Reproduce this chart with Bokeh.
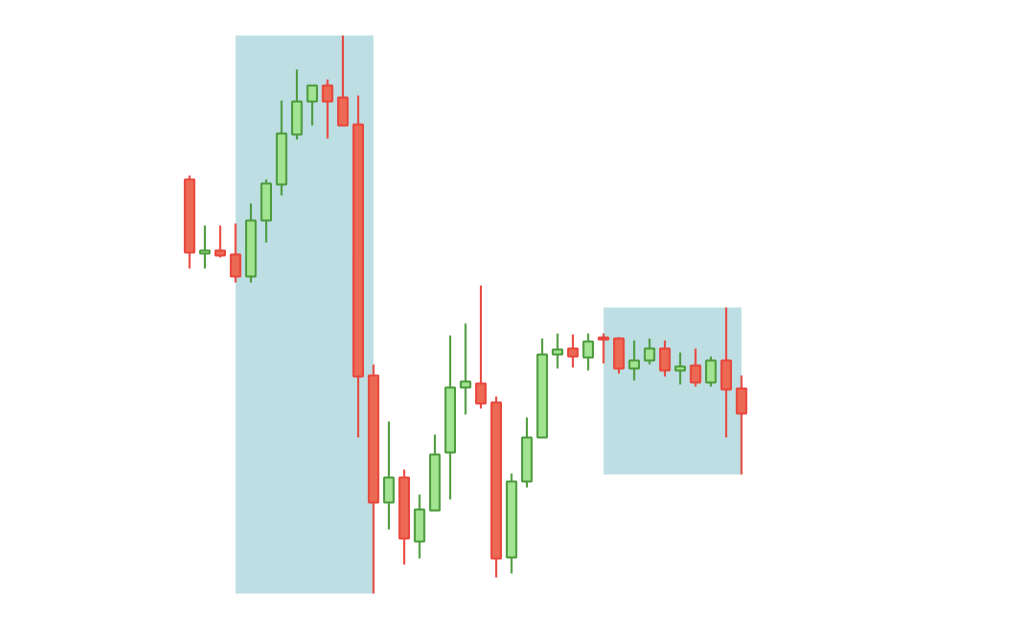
from bokeh.plotting import figure
from bokeh.models import Range1d, ColumnDataSource
from bokeh.embed import file_html
from bokeh.resources import INLINE

# OHLC values (arbitrary price units)
opens  = [521, 447, 450, 446, 424, 480, 516, 566, 599, 615, 603, 576, 325, 198, 223, 159, 190, 248, 313, 317, 298, 143, 219, 263, 346, 352, 343, 363, 362, 332, 340, 352, 330, 335, 318, 340, 312]
highs  = [525, 475, 475, 477, 497, 521, 600, 631, 615, 621, 665, 605, 336, 279, 231, 206, 266, 365, 377, 415, 304, 227, 283, 362, 367, 366, 367, 367, 363, 360, 362, 360, 348, 352, 344, 393, 325]
lows   = [432, 432, 443, 418, 418, 458, 505, 561, 575, 562, 575, 263, 107, 171, 136, 142, 190, 201, 286, 292, 123, 127, 213, 263, 332, 333, 330, 337, 327, 320, 336, 324, 316, 314, 314, 263, 226]
closes = [448, 450, 445, 424, 480, 517, 567, 599, 615, 599, 575, 324, 198, 223, 162, 191, 246, 313, 319, 297, 142, 219, 263, 346, 351, 344, 359, 361, 332, 340, 352, 330, 334, 318, 340, 311, 287]

# highlighted ranges (start index, end index)
zones = [(3, 12), (27, 36)]

idx = list(range(len(opens)))
up = [c >= o for o, c in zip(opens, closes)]

def src(flag):
    d = dict(x=[], top=[], bottom=[], high=[], low=[])
    for i in idx:
        if up[i] == flag:
            d["x"].append(i)
            d["top"].append(max(opens[i], closes[i]))
            d["bottom"].append(min(opens[i], closes[i]))
            d["high"].append(highs[i])
            d["low"].append(lows[i])
    return ColumnDataSource(d)

p = figure(width=1000, height=619, output_backend="svg", toolbar_location=None,
           x_range=Range1d(-12.33, 52.89), y_range=Range1d(81, 700),
           min_border=0, outline_line_color=None)
p.axis.visible = False
p.grid.visible = False

for a, b in zones:
    p.quad(left=a, right=b, bottom=min(lows[a:b + 1]), top=max(highs[a:b + 1]),
           fill_color="#bddfe4", line_color=None)

styles = {True: ("#a3e493", "#4c9a3c"), False: ("#ec6a53", "#e8463c")}
for flag in (True, False):
    s = src(flag)
    fill, line = styles[flag]
    p.segment(x0="x", x1="x", y0="high", y1="low", source=s, line_color=line, line_width=2)
    p.vbar(x="x", top="top", bottom="bottom", width=0.62, source=s,
           fill_color=fill, line_color=line, line_width=2)

open("out.html", "w").write(file_html(p, INLINE))
